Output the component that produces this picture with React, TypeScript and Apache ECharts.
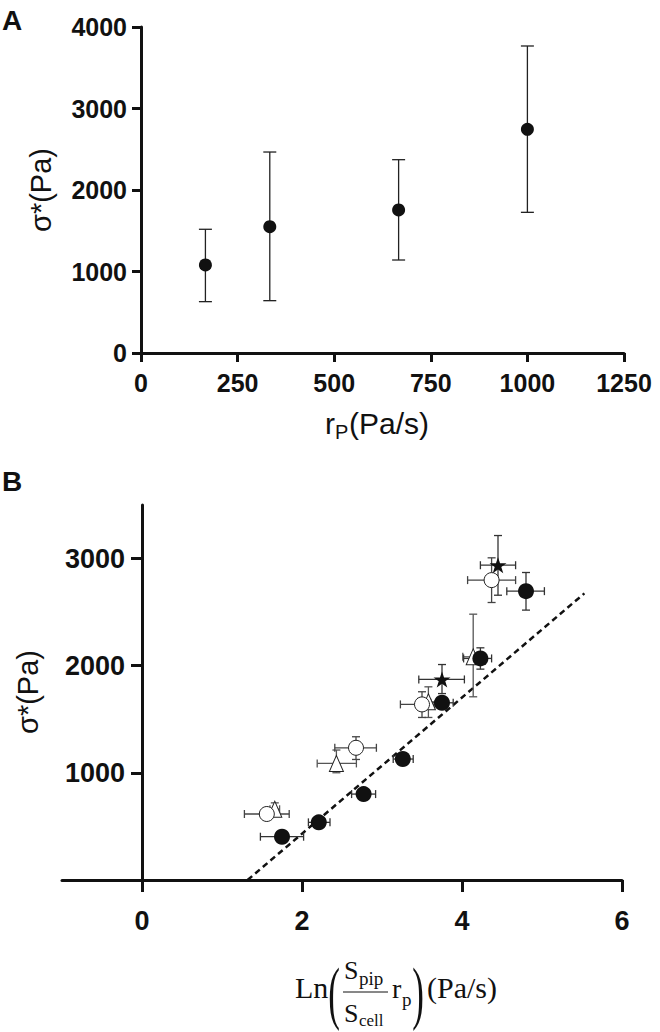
import React, { useEffect, useRef } from "react";
import * as echarts from "echarts";

// ---------- Panel A data ----------
const rpValues = [166.7, 333.3, 666.7, 1000];
const sigmaA = [1080, 1550, 1755, 2745];
const sigmaALow = [630, 642, 1141, 1726];
const sigmaAHigh = [1518, 2466, 2372, 3767];
const aXTicks = [0, 250, 500, 750, 1000, 1250];

// ---------- Panel B data ----------
// filled circles
const fcX = [1.75, 2.21, 2.77, 3.26, 3.75, 4.23, 4.8];
const fcY = [404, 538, 802, 1129, 1654, 2068, 2696];
const fcXLo = [1.48, 2.08, 2.62, 3.14, 3.61, 4.02, 4.56];
const fcXHi = [2.02, 2.35, 2.92, 3.39, 3.89, 4.37, 5.03];
const fcYLo = [404, 538, 802, 1129, 1654, 1968, 2519];
const fcYHi = [404, 538, 802, 1129, 1654, 2167, 2870];
// open circles
const ocX = [1.56, 2.675, 3.5, 4.37];
const ocY = [616, 1234, 1639, 2799];
const ocXLo = [1.28, 2.41, 3.23, 4.07];
const ocXHi = [1.84, 2.93, 3.66, 4.67];
const ocYLo = [616, 1125, 1517, 2590];
const ocYHi = [616, 1337, 1757, 3007];
// triangles
const trX = [1.66, 2.43, 3.58, 4.14];
const trY = [660, 1088, 1663, 2083];
const trXLo = [1.6, 2.19, 3.45, 4.01];
const trXHi = [1.72, 2.68, 3.71, 4.27];
const trYLo = [660, 1001, 1517, 1710];
const trYHi = [720, 1213, 1803, 2481];
// stars
const stX = [3.75, 4.45];
const stY = [1872, 2938];
const stXLo = [3.46, 4.23];
const stXHi = [4.03, 4.67];
const stYLo = [1740, 2658];
const stYHi = [2011, 3215];
// dashed fit line end points
const fitX = [1.32, 5.53];
const fitY = [0, 2675];
const bXTicks = [0, 2, 4, 6];
const bYTicks = [1000, 2000, 3000];

const STAR =
  "path://M50,0 L61.8,35.1 L98.9,35.1 L68.9,56.7 L80.3,91.9 L50,70.2 L19.7,91.9 L31.1,56.7 L1.1,35.1 L38.2,35.1 Z";

const AX = "#111";
const SANS = '"Liberation Sans", Arial, sans-serif';
const SERIF = '"Liberation Serif", "Times New Roman", serif';

function zip6(x: number[], y: number[], a: number[], b: number[], c: number[], d: number[]) {
  return x.map((v, i) => [v, y[i], a[i], b[i], c[i], d[i]]);
}

function errRenderer(color: string, cap: number) {
  return (params: any, api: any) => {
    const x = api.value(0), y = api.value(1);
    const xlo = api.value(2), xhi = api.value(3), ylo = api.value(4), yhi = api.value(5);
    const c = api.coord([x, y]);
    const pl = api.coord([xlo, y]);
    const ph = api.coord([xhi, y]);
    const pb = api.coord([x, ylo]);
    const pt = api.coord([x, yhi]);
    const st = { stroke: color, lineWidth: 1.3 };
    const ch: any[] = [];
    if (xhi - xlo > 0) {
      ch.push({ type: "line", shape: { x1: pl[0], y1: c[1], x2: ph[0], y2: c[1] }, style: st });
      ch.push({ type: "line", shape: { x1: pl[0], y1: c[1] - cap, x2: pl[0], y2: c[1] + cap }, style: st });
      ch.push({ type: "line", shape: { x1: ph[0], y1: c[1] - cap, x2: ph[0], y2: c[1] + cap }, style: st });
    }
    if (yhi - ylo > 0) {
      ch.push({ type: "line", shape: { x1: c[0], y1: pb[1], x2: c[0], y2: pt[1] }, style: st });
      ch.push({ type: "line", shape: { x1: c[0] - cap, y1: pb[1], x2: c[0] + cap, y2: pb[1] }, style: st });
      ch.push({ type: "line", shape: { x1: c[0] - cap, y1: pt[1], x2: c[0] + cap, y2: pt[1] }, style: st });
    }
    return { type: "group", children: ch };
  };
}

const plain = (v: number) => String(v);

export default function App() {
  const ref = useRef<HTMLDivElement>(null);
  useEffect(() => {
    if (!ref.current) return;
    const chart = echarts.init(ref.current, null, { renderer: "svg" });

    const axisLineStyle = { lineStyle: { color: AX, width: 3 } };
    const tickStyle = (len: number) => ({ show: true, length: len, lineStyle: { color: AX, width: 3 } });
    const labelA = { color: AX, fontWeight: "bold", fontSize: 25, fontFamily: SANS, formatter: plain };
    const labelB = { color: AX, fontWeight: "bold", fontSize: 27, fontFamily: SANS, formatter: plain };

    const panelAErr = rpValues.map((v, i) => [v, sigmaA[i], v, v, sigmaALow[i], sigmaAHigh[i]]);

    const option: any = {
      animation: false,
      backgroundColor: "#fff",
      grid: [
        { left: 141, top: 27, width: 483, height: 326, outerBoundsMode: "none", containLabel: false },
        { left: 62, top: 505, width: 560, height: 375, outerBoundsMode: "none", containLabel: false },
      ],
      xAxis: [
        {
          gridIndex: 0, type: "value", min: 0, max: 1250, interval: 250,
          axisLine: axisLineStyle, axisTick: tickStyle(9),
          axisLabel: { ...labelA, margin: 17, customValues: aXTicks },
          splitLine: { show: false },
        },
        {
          gridIndex: 1, type: "value", min: -1, max: 6,
          axisLine: { ...axisLineStyle, onZero: false },
          axisTick: { ...tickStyle(12), customValues: bXTicks },
          axisLabel: { ...labelB, margin: 27, customValues: bXTicks },
          splitLine: { show: false },
        },
      ],
      yAxis: [
        {
          gridIndex: 0, type: "value", min: 0, max: 4000, interval: 1000,
          axisLine: { ...axisLineStyle, show: true }, axisTick: tickStyle(9),
          axisLabel: { ...labelA, margin: 14 },
          splitLine: { show: false },
        },
        {
          gridIndex: 1, type: "value", min: 0, max: 3500, position: "left", offset: -80,
          axisLine: { ...axisLineStyle, show: true, onZero: false },
          axisTick: { ...tickStyle(11), customValues: bYTicks },
          axisLabel: { ...labelB, margin: 17, customValues: bYTicks },
          splitLine: { show: false },
        },
      ],
      series: [
        // Panel A
        {
          type: "custom", xAxisIndex: 0, yAxisIndex: 0, z: 3,
          renderItem: errRenderer("#222", 6.5),
          data: panelAErr, encode: { x: 0, y: 1 },
        },
        {
          type: "scatter", xAxisIndex: 0, yAxisIndex: 0, z: 4,
          symbol: "circle", symbolSize: 13,
          itemStyle: { color: "#111", opacity: 1 },
          data: rpValues.map((v, i) => [v, sigmaA[i]]),
        },
        // Panel B fit line
        {
          type: "line", xAxisIndex: 1, yAxisIndex: 1, z: 2,
          showSymbol: false, symbol: "none",
          lineStyle: { color: "#111", width: 2.5, type: [6, 4] },
          data: fitX.map((v, i) => [v, fitY[i]]),
        },
        // error bars
        {
          type: "custom", xAxisIndex: 1, yAxisIndex: 1, z: 3,
          renderItem: errRenderer("#555", 4),
          data: zip6(trX, trY, trXLo, trXHi, trYLo, trYHi), encode: { x: 0, y: 1 },
        },
        {
          type: "custom", xAxisIndex: 1, yAxisIndex: 1, z: 3,
          renderItem: errRenderer("#444", 4),
          data: zip6(ocX, ocY, ocXLo, ocXHi, ocYLo, ocYHi), encode: { x: 0, y: 1 },
        },
        {
          type: "custom", xAxisIndex: 1, yAxisIndex: 1, z: 3,
          renderItem: errRenderer("#333", 4),
          data: zip6(stX, stY, stXLo, stXHi, stYLo, stYHi), encode: { x: 0, y: 1 },
        },
        {
          type: "custom", xAxisIndex: 1, yAxisIndex: 1, z: 3,
          renderItem: errRenderer("#333", 4),
          data: zip6(fcX, fcY, fcXLo, fcXHi, fcYLo, fcYHi), encode: { x: 0, y: 1 },
        },
        // markers
        {
          type: "scatter", xAxisIndex: 1, yAxisIndex: 1, z: 4,
          symbol: "triangle", symbolSize: [14, 16],
          itemStyle: { color: "#fff", borderColor: "#222", borderWidth: 1, opacity: 1 },
          data: trX.map((v, i) => [v, trY[i]]),
        },
        {
          type: "scatter", xAxisIndex: 1, yAxisIndex: 1, z: 4,
          symbol: "circle", symbolSize: 15,
          itemStyle: { color: "#fff", borderColor: "#222", borderWidth: 1, opacity: 1 },
          data: ocX.map((v, i) => [v, ocY[i]]),
        },
        {
          type: "scatter", xAxisIndex: 1, yAxisIndex: 1, z: 5,
          symbol: "circle", symbolSize: 16,
          itemStyle: { color: "#111", opacity: 1 },
          data: fcX.map((v, i) => [v, fcY[i]]),
        },
        {
          type: "scatter", xAxisIndex: 1, yAxisIndex: 1, z: 5,
          symbol: STAR, symbolSize: [17, 16],
          itemStyle: { color: "#111", opacity: 1 },
          data: stX.map((v, i) => [v, stY[i]]),
        },
      ],
      graphic: [
        { type: "text", left: 2, top: 6, style: { text: "A", font: `bold 28px ${SANS}`, fill: AX } },
        { type: "text", left: 2, top: 467, style: { text: "B", font: `bold 28px ${SANS}`, fill: AX } },
        // Panel A axis names
        {
          type: "text", x: 41, y: 190, rotation: Math.PI / 2,
          style: { text: "σ*(Pa)", font: `29px ${SANS}`, fill: AX, textAlign: "center", textVerticalAlign: "middle" },
        },
        { type: "text", x: 325, y: 423, style: { text: "r", font: `30px ${SANS}`, fill: AX, textAlign: "left", textVerticalAlign: "middle" } },
        { type: "text", x: 335, y: 432, style: { text: "P", font: `20px ${SANS}`, fill: AX, textAlign: "left", textVerticalAlign: "middle" } },
        { type: "text", x: 349, y: 423, style: { text: "(Pa/s)", font: `30px ${SANS}`, fill: AX, textAlign: "left", textVerticalAlign: "middle" } },
        // Panel B axis names
        {
          type: "text", x: 28, y: 692, rotation: Math.PI / 2,
          style: { text: "σ*(Pa)", font: `29px ${SANS}`, fill: AX, textAlign: "center", textVerticalAlign: "middle" },
        },
        { type: "text", x: 295, y: 987, style: { text: "Ln", font: `30px ${SERIF}`, fill: AX, textAlign: "left", textVerticalAlign: "middle" } },
        { type: "text", x: 334, y: 993, scaleX: 0.5, style: { text: "(", font: `70px ${SERIF}`, fill: AX, textAlign: "center", textVerticalAlign: "middle" } },
        { type: "text", x: 344, y: 970, style: { text: "S", font: `26px ${SERIF}`, fill: AX, textAlign: "left", textVerticalAlign: "middle" } },
        { type: "text", x: 359, y: 978, style: { text: "pip", font: `19px ${SERIF}`, fill: AX, textAlign: "left", textVerticalAlign: "middle" } },
        { type: "line", shape: { x1: 343, y1: 992, x2: 388, y2: 992 }, style: { stroke: AX, lineWidth: 1 } },
        { type: "text", x: 344, y: 1013, style: { text: "S", font: `26px ${SERIF}`, fill: AX, textAlign: "left", textVerticalAlign: "middle" } },
        { type: "text", x: 359, y: 1020, style: { text: "cell", font: `17px ${SERIF}`, fill: AX, textAlign: "left", textVerticalAlign: "middle" } },
        { type: "text", x: 392, y: 988, style: { text: "r", font: `28px ${SERIF}`, fill: AX, textAlign: "left", textVerticalAlign: "middle" } },
        { type: "text", x: 402, y: 999, style: { text: "p", font: `19px ${SERIF}`, fill: AX, textAlign: "left", textVerticalAlign: "middle" } },
        { type: "text", x: 418, y: 993, scaleX: 0.5, style: { text: ")", font: `70px ${SERIF}`, fill: AX, textAlign: "center", textVerticalAlign: "middle" } },
        { type: "text", x: 427, y: 987, style: { text: "(Pa/s)", font: `30px ${SERIF}`, fill: AX, textAlign: "left", textVerticalAlign: "middle" } },
      ],
    };
    chart.setOption(option);
    return () => chart.dispose();
  }, []);

  return <div ref={ref} style={{ width: 660, height: 1032, position: "absolute", left: 0, top: 0 }} />;
}
